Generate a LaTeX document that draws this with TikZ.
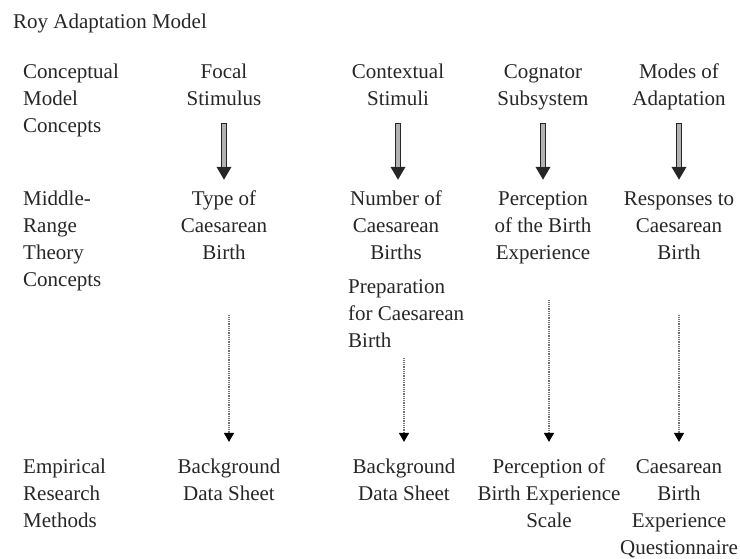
\documentclass[tikz,border=0pt]{standalone}
\usepackage{fontspec}
\setmainfont{Liberation Serif}
\usetikzlibrary{arrows.meta,calc}
\newcommand\ctext[1]{\begin{tabular}[t]{@{}c@{}}#1\end{tabular}}
\newcommand\ltext[1]{\begin{tabular}[t]{@{}l@{}}#1\end{tabular}}
\tikzset{
  lbl/.style={inner sep=0pt, anchor=base, font=\fontsize{21}{27}\selectfont, text=black!85},
  llbl/.style={lbl, anchor=base west},
  bigarrow/.style={line width=6.5pt, draw=black!85, shorten <=10pt, shorten >=6pt,
    -{Triangle[width=14pt,length=13pt]},
    postaction={draw=gray!60, line width=3.6pt, -, shorten <=11pt, shorten >=19pt}},
  dotarrow/.style={line width=1.3pt, draw=black!55, dash pattern=on 1pt off 0.8pt,
    shorten >=12pt, -{Triangle[width=10pt,length=9pt,black]}}
}
\begin{document}
\begin{tikzpicture}[x=1pt,y=-1pt]
\useasboundingbox (0,0) rectangle (740,558);
% title
\node[llbl] (title) at (13,28) {Roy Adaptation Model};
% row labels
\node[llbl] (r1) at (23,78) {\ltext{Conceptual\\Model\\Concepts}};
\node[llbl] (r2) at (23,205) {\ltext{Middle-\\Range\\Theory\\Concepts}};
\node[llbl] (r3) at (23,473) {\ltext{Empirical\\Research\\Methods}};
% top row
\node[lbl] (focal) at (224,78) {\ctext{Focal\\Stimulus}};
\node[lbl] (cont) at (398,78) {\ctext{Contextual\\Stimuli}};
\node[lbl] (cog) at (543,78) {\ctext{Cognator\\Subsystem}};
\node[lbl] (modes) at (679,78) {\ctext{Modes of\\Adaptation}};
% middle row
\node[lbl] (type) at (224,205) {\ctext{Type of\\Caesarean\\Birth}};
\node[lbl] (num) at (396,205) {\ctext{Number of\\Caesarean\\Births}};
\node[llbl] (prep) at (348,293) {\ltext{Preparation\\for Caesarean\\Birth}};
\node[lbl] (perc) at (543,205) {\ctext{Perception\\of the Birth\\Experience}};
\node[lbl] (resp) at (679,205) {\ctext{Responses to\\Caesarean\\Birth}};
% bottom row
\node[lbl] (bg1) at (229,473) {\ctext{Background\\Data Sheet}};
\node[lbl] (bg2) at (404,473) {\ctext{Background\\Data Sheet}};
\node[lbl] (pbes) at (549,473) {\ctext{Perception of\\Birth Experience\\Scale}};
\node[lbl] (cbeq) at (679,473) {\ctext{Caesarean\\Birth\\Experience\\Questionnaire}};
% thick arrows
\draw[bigarrow] (focal.south) -- (type.north);
\draw[bigarrow] (cont.south) -- (cont.south |- num.north);
\draw[bigarrow] (cog.south) -- (perc.north);
\draw[bigarrow] (modes.south) -- (resp.north);
% dotted arrows
\draw[dotarrow, shorten <=48pt] (bg1.north |- type.south) -- (bg1.north);
\draw[dotarrow, shorten <=3pt] (bg2.north |- prep.south) -- (bg2.north);
\draw[dotarrow, shorten <=33pt] (pbes.north |- perc.south) -- (pbes.north);
\draw[dotarrow, shorten <=48pt] (cbeq.north |- resp.south) -- (cbeq.north);
\end{tikzpicture}
\end{document}
